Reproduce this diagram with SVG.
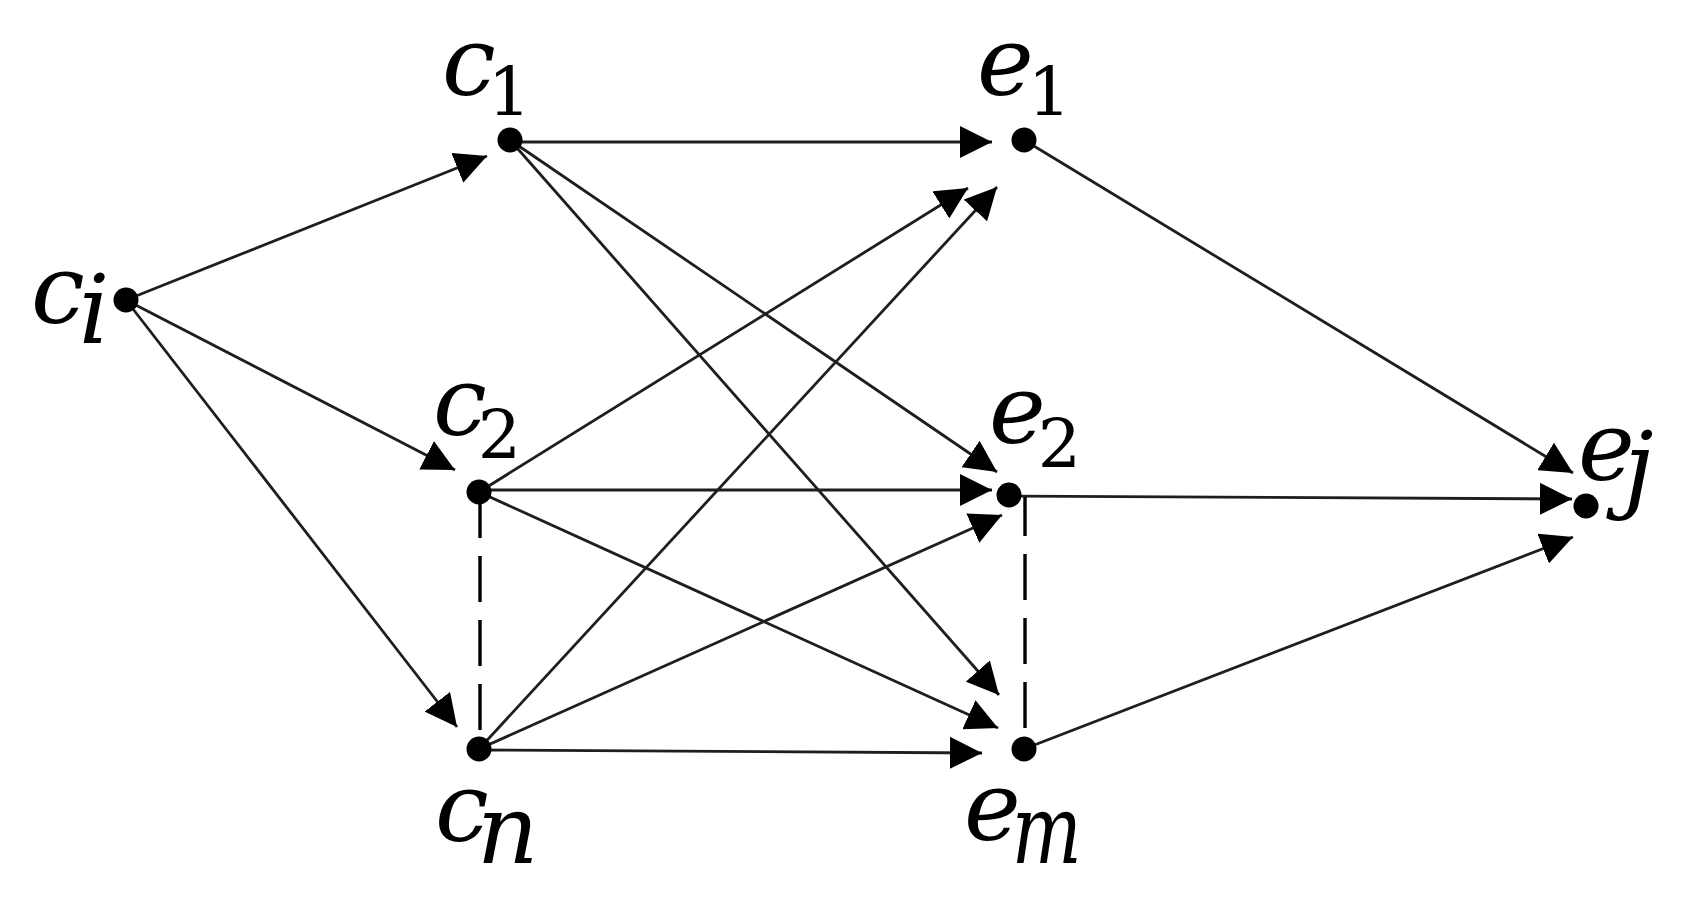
<svg xmlns="http://www.w3.org/2000/svg" width="1689" height="897" viewBox="0 0 1689 897">
<style>
.e{stroke:#1e1e1e;stroke-width:2.8;fill:none;marker-end:url(#ah)}
.d{stroke:#000;stroke-width:3.4;fill:none;stroke-dasharray:46 18}
.dot{fill:#000}
.m{font-family:"DejaVu Serif","Liberation Serif",serif;font-style:italic;font-size:96px;fill:#000}
.s{font-style:normal;font-size:68px}
.si{font-style:italic;font-size:96px}
</style>
<defs>
<marker id="ah" viewBox="0 0 32 32" refX="32" refY="16" markerWidth="32" markerHeight="32" markerUnits="userSpaceOnUse" orient="auto">
<path d="M0,0 L32,16 L0,32 z" fill="#000"/>
</marker>
</defs>
<rect width="1689" height="897" fill="#fff"/>
<g id="connectors">
<line class="e" x1="126" y1="300" x2="487" y2="156"/>
<line class="e" x1="126" y1="300" x2="455" y2="470"/>
<line class="e" x1="126" y1="300" x2="457" y2="727"/>
<line class="e" x1="510" y1="142" x2="992" y2="142"/>
<line class="e" x1="510" y1="140" x2="997" y2="472"/>
<line class="e" x1="510" y1="140" x2="999" y2="695"/>
<line class="e" x1="479" y1="492" x2="968" y2="188"/>
<line class="e" x1="479" y1="490" x2="992" y2="490"/>
<line class="e" x1="479" y1="492" x2="998" y2="728"/>
<line class="e" x1="479" y1="749" x2="997" y2="187"/>
<line class="e" x1="479" y1="749" x2="1002" y2="515"/>
<line class="e" x1="479" y1="750" x2="982" y2="753"/>
<line class="e" x1="1024" y1="140" x2="1573" y2="473"/>
<line class="e" x1="1009" y1="496" x2="1572" y2="499"/>
<line class="e" x1="1024" y1="749" x2="1573" y2="537"/>
<line class="d" x1="480" y1="492" x2="480" y2="749"/>
<line class="d" x1="1025" y1="497" x2="1025" y2="749" stroke-dashoffset="7"/>
</g>
<g id="ci"><circle class="dot" cx="126" cy="300" r="12.5"/><text class="m" x="31" y="323">c<tspan class="si" dx="-6" dy="20">i</tspan></text></g>
<g id="c1"><circle class="dot" cx="510" cy="140" r="12.5"/><text class="m" x="442" y="95">c<tspan class="s" dx="-8" dy="20">1</tspan></text></g>
<g id="c2"><circle class="dot" cx="479" cy="492" r="12.5"/><text class="m" x="433" y="435">c<tspan class="s" dx="-9" dy="23">2</tspan></text></g>
<g id="cn"><circle class="dot" cx="479" cy="749" r="12.5"/><text class="m" x="435" y="841">c<tspan class="si" dx="-12" dy="22">n</tspan></text></g>
<g id="e1"><circle class="dot" cx="1024" cy="140" r="12.5"/><text class="m" x="977" y="95">e<tspan class="s" dx="-6" dy="20">1</tspan></text></g>
<g id="e2"><circle class="dot" cx="1009" cy="495" r="12.5"/><text class="m" x="989" y="443">e<tspan class="s" dx="-8" dy="24">2</tspan></text></g>
<g id="em"><circle class="dot" cx="1024" cy="749" r="12.5"/><text class="m" x="964" y="840">e<tspan class="si" dx="-9" dy="23" textLength="70" lengthAdjust="spacingAndGlyphs">m</tspan></text></g>
<g id="ej"><circle class="dot" cx="1586" cy="506" r="12.5"/><text class="m" x="1578" y="480">e<tspan class="si" dx="-11" dy="20">j</tspan></text></g>
</svg>
